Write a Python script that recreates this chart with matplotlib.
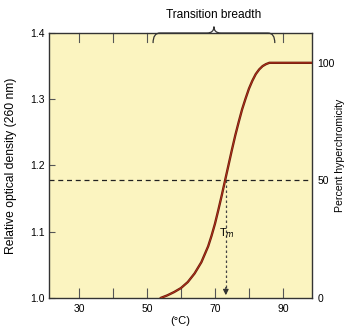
import matplotlib
matplotlib.use("Agg")
import matplotlib.pyplot as plt
from matplotlib.path import Path
from matplotlib.patches import PathPatch
import matplotlib.transforms as mtransforms

plt.rcParams['font.family'] = ['Liberation Sans', 'DejaVu Sans']

# Data
temperature = [54, 56, 58, 60, 62, 64, 66, 68, 69, 70, 71, 72, 73, 74, 75, 76, 77,
               78, 79, 80, 81, 82, 83, 84, 85, 86, 87, 88, 90, 95, 98.5]
optical_density = [1.000, 1.004, 1.009, 1.015, 1.024, 1.037, 1.054, 1.078, 1.094, 1.112,
                   1.133, 1.155, 1.178, 1.201, 1.224, 1.246, 1.266, 1.285, 1.301, 1.316,
                   1.328, 1.338, 1.345, 1.350, 1.353, 1.355, 1.355, 1.355, 1.355, 1.355, 1.355]
x_ticks = [30, 50, 70, 90]
x_minor = [40, 60, 80]
top_ticks = [30, 40, 50, 90]
y_ticks = [1.0, 1.1, 1.2, 1.3, 1.4]
od_min, od_max = 1.0, 1.355
pct_ticks = [0, 50, 100]
tm = 73.2
tm_od = 1.1775
breadth_start, breadth_end = 51.8, 87.6

fig = plt.figure(figsize=(3.45, 3.31), dpi=100)
ax = fig.add_axes([0.142, 0.0997, 0.762, 0.8006])
ax.set_facecolor('#fbf4c0')

ax.set_xlim(21.2, 98.5)
ax.set_ylim(1.0, 1.4)

# curve: dark outline with red core
ax.plot(temperature, optical_density, color='#6a1e0c', lw=1.7, solid_capstyle='round', zorder=3)
ax.plot(temperature, optical_density, color='#b8301c', lw=0.6, zorder=4)

# dashed horizontal line at 50%
ax.axhline(tm_od, color='#222222', lw=0.9, ls=(0, (4, 3)), zorder=2)

# dashed arrow down from Tm
ax.plot([tm, tm], [tm_od, 1.012], color='#444444', lw=0.9, ls=(0, (2, 2)), zorder=2)
ax.annotate('', xy=(tm, 1.0), xytext=(tm, 1.02),
            arrowprops=dict(arrowstyle='-|>', color='#333333', lw=0.9, mutation_scale=8))
ax.text(tm + 0.3, 1.098, r'T$_{\it m}$', fontsize=8, ha='center', va='center', zorder=5)

# ticks
ax.set_xticks(x_ticks)
ax.set_xticks(x_minor, minor=True)
ax.tick_params(axis='x', which='both', direction='in', length=7, width=0.8,
               labelsize=7.5, color='#555555', pad=4)
ax.set_yticks(y_ticks)
ax.set_yticklabels([f'{v:.1f}' for v in y_ticks])
ax.tick_params(axis='y', direction='in', length=4, width=0.8, labelsize=7.5,
               color='#555555', pad=3)

for s in ax.spines.values():
    s.set_color('#333333')
    s.set_linewidth(1.0)

# top ticks
trans_top = mtransforms.blended_transform_factory(ax.transData, ax.transAxes)
for t in top_ticks:
    ax.plot([t, t], [1.0, 0.965], color='#555555', lw=0.8, transform=trans_top, clip_on=False)

ax.set_xlabel('(°C)', fontsize=8, labelpad=2)
ax.set_ylabel('Relative optical density (260 nm)', fontsize=8.7)
ax.yaxis.set_label_coords(-0.122, 0.5)

# right axis: percent hyperchromicity
ax2 = ax.twinx()
ax2.set_ylim(0, 100 * (1.4 - od_min) / (od_max - od_min))
ax2.set_yticks(pct_ticks)
ax2.tick_params(axis='y', direction='in', length=0, labelsize=7.5, pad=4)
ax2.set_ylabel('Percent hyperchromicity', fontsize=7.6)
ax2.yaxis.set_label_coords(1.088, 0.54)
for s in ax2.spines.values():
    s.set_visible(False)

# brace for transition breadth
x0, x1 = breadth_start, breadth_end
xm = (x0 + x1) / 2
y_end, y_bar, y_peak = 0.962, 1.0, 1.024
verts = [(x0, y_end), (x0, y_bar), (x0 + 2, y_bar),
         (xm - 2, y_bar), (xm, y_bar), (xm, y_peak),
         (xm, y_bar), (xm + 2, y_bar),
         (x1 - 2, y_bar), (x1, y_bar), (x1, y_end)]
codes = [Path.MOVETO, Path.CURVE3, Path.CURVE3,
         Path.LINETO, Path.CURVE3, Path.CURVE3,
         Path.CURVE3, Path.CURVE3,
         Path.LINETO, Path.CURVE3, Path.CURVE3]
brace = PathPatch(Path(verts, codes), transform=trans_top, fill=False,
                  edgecolor='#333333', lw=0.9, clip_on=False)
ax.add_patch(brace)
ax.text(xm, 1.068, 'Transition breadth', transform=trans_top, ha='center',
        va='center', fontsize=8.6)

fig.savefig('out.png', dpi=100, facecolor='white')
